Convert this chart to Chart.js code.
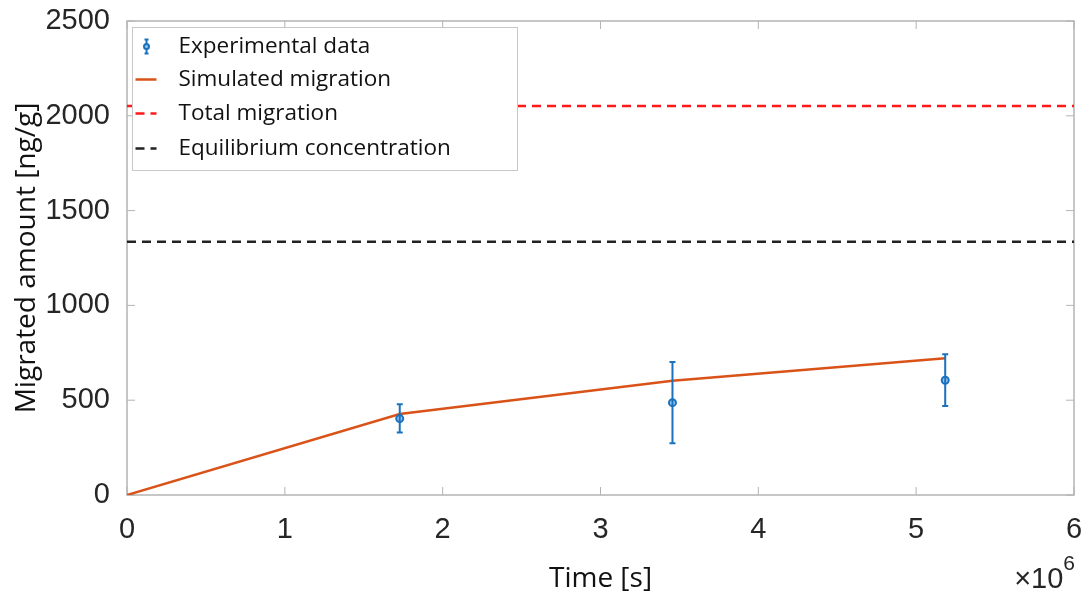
<!DOCTYPE html>
<html>
<head>
<meta charset="utf-8">
<script src="https://cdn.jsdelivr.net/npm/chart.js@4/dist/chart.umd.min.js"></script>
<style>
  html, body { margin: 0; padding: 0; background: #fff; }
  #wrap { width: 1087px; height: 597px; }
</style>
</head>
<body>
<div id="wrap"><canvas id="migChart" width="1087" height="597"></canvas></div>
<script>
// measured samples (time in s, amount in ng/g)
const expTimes = [1728000, 3456000, 5184000];
const expValues = [403, 487, 605];
const expLow = [329, 273, 469];
const expHigh = [478, 701, 742];

// model curve
const simTimes = [0, 1728000, 3456000, 5184000];
const simValues = [0, 427, 603, 721];

// reference levels
const totalMigration = 2052;
const equilibriumConc = 1336;
const levelSpan = [0, 6000000];

const yTicks = [0, 500, 1000, 1500, 2000, 2500];
const xTicks = [0, 1, 2, 3, 4, 5, 6];

const BLUE = '#1a72bf';
const ORANGE = '#d95319';
const AXIS_GRAY = '#b4b4b4';

const toPts = (xs, ys) => xs.map((x, i) => ({ x: x, y: ys[i] }));

// box around the plot area with inward ticks on all four sides
const boxPlugin = {
    id: 'box',
    beforeDatasetsDraw(chart) {
        const { ctx, chartArea: a, scales } = chart;
        ctx.save();
        ctx.strokeStyle = AXIS_GRAY;
        ctx.lineWidth = 1.5;
        ctx.strokeRect(a.left, a.top, a.right - a.left, a.bottom - a.top);
        ctx.lineWidth = 1;
        const len = 8;
        ctx.beginPath();
        xTicks.forEach(t => {
            const px = scales.x.getPixelForValue(t * 1e6);
            ctx.moveTo(px, a.bottom); ctx.lineTo(px, a.bottom - len);
            ctx.moveTo(px, a.top); ctx.lineTo(px, a.top + len);
        });
        yTicks.forEach(t => {
            const py = scales.y.getPixelForValue(t);
            ctx.moveTo(a.left, py); ctx.lineTo(a.left + len, py);
            ctx.moveTo(a.right, py); ctx.lineTo(a.right - len, py);
        });
        ctx.stroke();
        ctx.restore();
    }
};

function drawErrBar(ctx, x, yTop, yBot, cap) {
    ctx.beginPath();
    ctx.moveTo(x, yTop); ctx.lineTo(x, yBot);
    ctx.moveTo(x - cap, yTop); ctx.lineTo(x + cap, yTop);
    ctx.moveTo(x - cap, yBot); ctx.lineTo(x + cap, yBot);
    ctx.stroke();
}

// vertical error bars for the experimental series
const errorBarPlugin = {
    id: 'errorBars',
    afterDatasetsDraw(chart) {
        const { ctx, scales } = chart;
        ctx.save();
        ctx.strokeStyle = BLUE;
        ctx.lineWidth = 2;
        expTimes.forEach((t, i) => {
            const px = scales.x.getPixelForValue(t);
            drawErrBar(ctx, px, scales.y.getPixelForValue(expHigh[i]), scales.y.getPixelForValue(expLow[i]), 3);
        });
        ctx.restore();
    }
};

// legend box inside the top-left corner + the x exponent label
const overlayPlugin = {
    id: 'overlay',
    afterDraw(chart) {
        const { ctx, chartArea: a } = chart;
        ctx.save();
        const bx = a.left + 5.5, by = a.top + 6.5, bw = 385, bh = 143;
        ctx.fillStyle = '#fff';
        ctx.fillRect(bx, by, bw, bh);
        ctx.strokeStyle = '#c8c8c8';
        ctx.lineWidth = 1;
        ctx.strokeRect(bx, by, bw, bh);

        const rows = [19, 52, 86, 121];
        const sx0 = bx + 3, sx1 = bx + 24, tx = bx + 46;
        chart.data.datasets.forEach((ds, i) => {
            const y = by + rows[i];
            ctx.save();
            if (i === 0) {
                ctx.strokeStyle = BLUE;
                ctx.lineWidth = 2;
                drawErrBar(ctx, bx + 14, y - 7, y + 7, 2);
                ctx.beginPath();
                ctx.arc(bx + 14, y, 2.5, 0, Math.PI * 2);
                ctx.fillStyle = '#9cc4e8';
                ctx.fill();
                ctx.stroke();
            } else {
                ctx.strokeStyle = ds.borderColor;
                ctx.lineWidth = ds.borderWidth;
                ctx.setLineDash(ds.borderDash || []);
                ctx.beginPath();
                ctx.moveTo(sx0, y); ctx.lineTo(sx1, y);
                ctx.stroke();
            }
            ctx.restore();
            ctx.fillStyle = '#111';
            ctx.font = '22.5px "Open Sans"';
            ctx.textBaseline = 'middle';
            ctx.textAlign = 'left';
            ctx.fillText(ds.label, tx, y);
        });

        // ×10^6 multiplier under the right end of the x axis
        ctx.fillStyle = '#262626';
        ctx.textBaseline = 'alphabetic';
        ctx.textAlign = 'right';
        ctx.font = '21px "Liberation Sans"';
        ctx.fillText('6', a.right + 1, 570);
        const sup = ctx.measureText('6').width;
        ctx.font = '29px "Liberation Sans"';
        ctx.fillText('\u00d710', a.right + 1 - sup, 588);
        ctx.restore();
    }
};

new Chart(document.getElementById('migChart').getContext('2d'), {
    type: 'scatter',
    data: {
        datasets: [{
            label: 'Experimental data',
            data: toPts(expTimes, expValues),
            showLine: false,
            pointRadius: 3.5,
            pointBorderWidth: 2,
            pointBorderColor: BLUE,
            pointBackgroundColor: '#9cc4e8',
            order: 0
        }, {
            label: 'Simulated migration',
            data: toPts(simTimes, simValues),
            showLine: true,
            borderColor: ORANGE,
            borderWidth: 2.5,
            pointRadius: 0,
            order: 1
        }, {
            label: 'Total migration',
            data: toPts(levelSpan, [totalMigration, totalMigration]),
            showLine: true,
            borderColor: '#ff1a1a',
            borderWidth: 2.5,
            borderDash: [9, 6],
            pointRadius: 0,
            order: 2
        }, {
            label: 'Equilibrium concentration',
            data: toPts(levelSpan, [equilibriumConc, equilibriumConc]),
            showLine: true,
            borderColor: '#222',
            borderWidth: 2.5,
            borderDash: [9, 6],
            pointRadius: 0,
            order: 3
        }]
    },
    options: {
        responsive: false,
        animation: false,
        layout: { padding: { top: 21, right: 13, left: 0, bottom: 0 } },
        plugins: { legend: { display: false }, tooltip: { enabled: false } },
        scales: {
            x: {
                type: 'linear',
                min: 0, max: 6000000,
                afterFit: s => { s.height = 102; s.paddingLeft = 0; s.paddingRight = 0; },
                afterBuildTicks: s => { s.ticks = xTicks.map(v => ({ value: v * 1e6 })); },
                grid: { display: false },
                border: { display: false },
                ticks: {
                    padding: 10,
                    color: '#262626',
                    font: { family: 'Liberation Sans', size: 29 },
                    callback: v => String(v / 1e6)
                },
                title: {
                    display: true,
                    text: 'Time [s]',
                    color: '#111',
                    font: { family: 'Open Sans', size: 28 },
                    padding: { top: 0, bottom: 1 }
                }
            },
            y: {
                min: 0, max: 2500,
                afterFit: s => { s.width = 127; s.paddingTop = 0; s.paddingBottom = 0; },
                afterBuildTicks: s => { s.ticks = yTicks.map(v => ({ value: v })); },
                grid: { display: false },
                border: { display: false },
                ticks: {
                    padding: 9,
                    color: '#262626',
                    font: { family: 'Liberation Sans', size: 29 },
                    callback: v => String(v)
                },
                title: {
                    display: true,
                    text: 'Migrated amount [ng/g]',
                    color: '#111',
                    font: { family: 'Open Sans', size: 28 },
                    padding: { top: 10, bottom: 0 }
                }
            }
        }
    },
    plugins: [boxPlugin, errorBarPlugin, overlayPlugin]
});
</script>
</body>
</html>
